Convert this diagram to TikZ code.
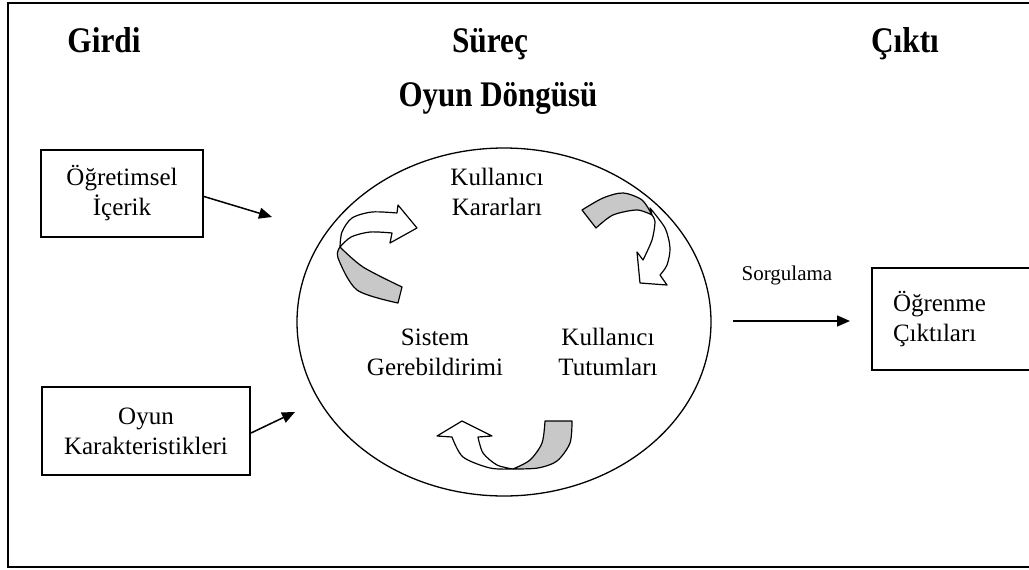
\documentclass[tikz,border=0pt]{standalone}
\usepackage{fontspec}
\setmainfont{Liberation Serif}
\usetikzlibrary{arrows.meta}
\tikzset{
  head/.style={font=\fontsize{36}{42}\selectfont\bfseries, anchor=base, inner sep=0},
  boxtext/.style={font=\fontsize{25}{30}\selectfont, inner sep=0},
  inbox/.style={draw, line width=2pt, boxtext, align=center},
  conn/.style={line width=1.5pt, -{Triangle[length=13pt,width=11pt]}},
  grayband/.style={fill={rgb,255:red,200;green,200;blue,200}, draw, line width=1.2pt, line join=round},
  whiteband/.style={fill=white, draw, line width=1.2pt, line join=round},
}
\begin{document}
\begin{tikzpicture}[x=1pt,y=-1pt]
\useasboundingbox (0,0) rectangle (1029,570);
\begin{scope}
\clip (0,0) rectangle (1029,570);
% frame
\draw[line width=2.6pt] (8,3) rectangle (1045,567);
% headings
\node[head] (girdi) at (104,52) {\scalebox{0.87}[1]{Girdi}};
\node[head] (surec) at (490,52) {\scalebox{0.87}[1]{Süreç}};
\node[head] (cikti) at (905,52) {\scalebox{0.87}[1]{Çıktı}};
\node[head] (dongu) at (498,106) {\scalebox{0.86}[1]{Oyun Döngüsü}};
% loop circle
\draw[line width=1.3pt] (504,322) ellipse [x radius=207, y radius=174];
% inner labels
\node[boxtext, align=center] (kk) at (497,192) {Kullanıcı\\Kararları};
\node[boxtext, align=center] (sg) at (435,352) {Sistem\\Gerebildirimi};
\node[boxtext, align=center] (kt) at (608,352) {Kullanıcı\\Tutumları};
% input boxes
\node[inbox, minimum width=162, minimum height=87] (in1) at (122,193.5) {Öğretimsel\\İçerik};
\node[inbox, minimum width=208, minimum height=88] (in2) at (146,431) {Oyun\\Karakteristikleri};
% output box
\node[draw, line width=2pt, boxtext, align=left, minimum width=173, minimum height=102,
      text width=131, inner xsep=21pt] (out) at (958.5,319) {Öğrenme\\Çıktıları};
% connectors
\coordinate (t1) at (272,217);
\coordinate (t2) at (295,412);
\coordinate (s3) at (733,321);
\coordinate (t3) at (850,321);
\draw[conn] ([yshift=-3pt]in1.east) -- (t1);
\draw[conn] ([yshift=-2pt]in2.east) -- (t2);
\draw[conn] (s3) -- (t3);
\node[font=\fontsize{21}{25}\selectfont, anchor=base, inner sep=0] (sorg) at (787,280) {Sorgulama};
% curved block arrow 1 (left)
\draw[grayband] plot[smooth] coordinates {(340,247) (363,267) (402,287)} -- (398,303)
   -- plot[smooth] coordinates {(398,303) (357,290) (338,258) (340,247)} -- cycle;
\draw[whiteband] plot[smooth] coordinates {(340,247) (342,232) (352,218) (372,212) (397,213)}
   -- (398,205) -- (417,228) -- (390,243) -- (392,233)
   -- plot[smooth] coordinates {(392,233) (370,232) (351,237) (340,247)} -- cycle;
% curved block arrow 2 (upper right)
\draw[grayband] plot[smooth] coordinates {(582,210) (603,198) (623,193) (642,200) (652,215)}
   -- plot[smooth] coordinates {(652,215) (637,210) (613,215) (596,228)} -- cycle;
\draw[whiteband] plot[smooth] coordinates {(650,208) (665,228) (670,248) (667,265) (660,275)}
   -- (667,285) -- (640,283) -- (637,252) -- (643,260)
   -- plot[smooth] coordinates {(643,260) (652,240) (655,222) (652,215)} -- cycle;
% curved block arrow 3 (bottom)
\draw[grayband] (545,421) -- (572,421)
   -- plot[smooth] coordinates {(572,421) (570,443) (557,461) (538,468) (513,469)}
   -- plot[smooth] coordinates {(513,469) (530,460) (542,443) (545,421)} -- cycle;
\draw[whiteband] plot[smooth] coordinates {(513,469) (490,468) (463,457) (452,437)}
   -- (437,436) -- (462,421) -- (492,436) -- (478,437)
   -- plot[smooth] coordinates {(478,437) (483,453) (497,465) (513,469)} -- cycle;
\end{scope}
\end{tikzpicture}
\end{document}
